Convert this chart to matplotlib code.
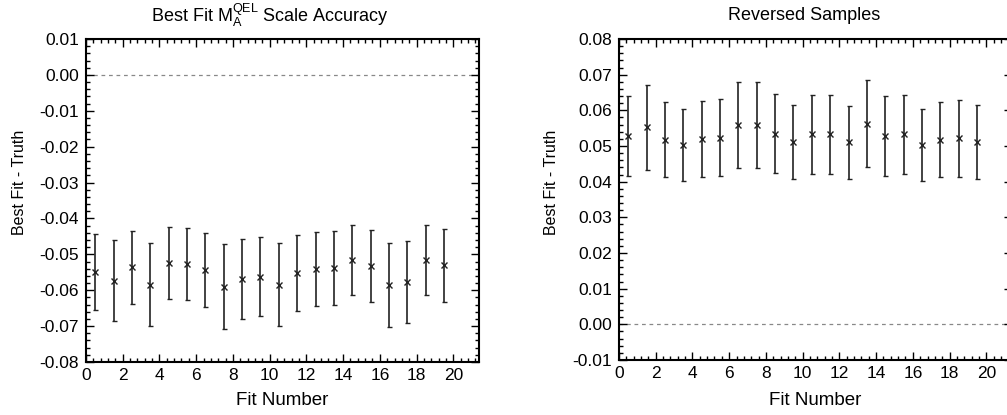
import matplotlib
matplotlib.use("Agg")
import matplotlib.pyplot as plt
from matplotlib.ticker import MultipleLocator
import numpy as np

plt.rcParams['font.family'] = ['Liberation Sans', 'DejaVu Sans']
plt.rcParams['mathtext.fontset'] = 'custom'
plt.rcParams['mathtext.rm'] = 'Liberation Sans'
plt.rcParams['mathtext.it'] = 'Liberation Sans'

# ---- data ----
fit_number = [0.5 + i for i in range(20)]

left_values = [-0.0548, -0.0574, -0.0536, -0.0585, -0.0524, -0.0528, -0.0544, -0.0590,
               -0.0568, -0.0563, -0.0585, -0.0551, -0.0541, -0.0538, -0.0515, -0.0532,
               -0.0586, -0.0578, -0.0515, -0.0531]
left_errors = [0.0106, 0.0113, 0.0102, 0.0116, 0.0100, 0.0100, 0.0104, 0.0118,
               0.0111, 0.0110, 0.0116, 0.0106, 0.0104, 0.0103, 0.0098, 0.0101,
               0.0117, 0.0114, 0.0098, 0.0101]

right_values = [0.0529, 0.0552, 0.0518, 0.0504, 0.0519, 0.0523, 0.0558, 0.0558,
                0.0535, 0.0512, 0.0533, 0.0533, 0.0510, 0.0563, 0.0529, 0.0533,
                0.0504, 0.0518, 0.0522, 0.0511]
right_errors = [0.0112, 0.0119, 0.0106, 0.0101, 0.0107, 0.0108, 0.0121, 0.0121,
                0.0112, 0.0104, 0.0111, 0.0111, 0.0103, 0.0123, 0.0112, 0.0111,
                0.0101, 0.0106, 0.0108, 0.0104]

left_title = r'Best Fit M$_{\mathrm{A}}^{\mathrm{QEL}}$ Scale Accuracy'
right_title = 'Reversed Samples'
xlabel = 'Fit Number'
ylabel = 'Best Fit - Truth'

W, H = 1007, 415
fig = plt.figure(figsize=(W / 100, H / 100), dpi=100)


def px_axes(left, top, right, bottom):
    return fig.add_axes([left / W, (H - bottom) / H, (right - left) / W, (bottom - top) / H])


def style(ax, ylim):
    ax.set_xlim(0, 21.4)
    ax.set_ylim(*ylim)
    ax.xaxis.set_major_locator(MultipleLocator(2))
    ax.xaxis.set_minor_locator(MultipleLocator(0.4))
    ax.yaxis.set_major_locator(MultipleLocator(0.01))
    ax.yaxis.set_minor_locator(MultipleLocator(0.002))
    ax.yaxis.set_major_formatter(matplotlib.ticker.FuncFormatter(
        lambda v, p: f"{v:.2f}".replace("-0.00", "0.00")))
    ax.tick_params(which='both', direction='in', top=True, right=True, width=1.0, colors='black')
    ax.tick_params(which='major', length=5.5, labelsize=12.5)
    ax.tick_params(axis='x', which='major', pad=4.5)
    ax.tick_params(axis='y', which='major', pad=5)
    ax.tick_params(which='minor', length=2.8)
    for s in ax.spines.values():
        s.set_linewidth(1.5)
    ax.axhline(0.0, color='#888888', lw=0.9, ls=(0, (3, 3)), zorder=1)


axL = px_axes(86, 39, 479, 362)
style(axL, (-0.08, 0.01))
axL.errorbar(fit_number, left_values, yerr=left_errors, fmt='x', color='#222222',
             ms=4.5, mew=1.0, elinewidth=1.2, capsize=1.8, capthick=1.2)

axR = px_axes(619, 39, 1012, 360)
style(axR, (-0.01, 0.08))
axR.errorbar(fit_number, right_values, yerr=right_errors, fmt='x', color='#222222',
             ms=4.5, mew=1.0, elinewidth=1.2, capsize=1.8, capthick=1.2)

fig.text(270 / W, 1 - 15 / H, left_title, ha='center', va='center', fontsize=13)
fig.text(804 / W, 1 - 15 / H, right_title, ha='center', va='center', fontsize=13)
fig.text(282 / W, 1 - 400 / H, xlabel, ha='center', va='center', fontsize=13.5)
fig.text(815 / W, 1 - 400 / H, xlabel, ha='center', va='center', fontsize=13.5)
fig.text(20 / W, 1 - 182 / H, ylabel, ha='center', va='center', fontsize=11.5, rotation=90)
fig.text(552 / W, 1 - 182 / H, ylabel, ha='center', va='center', fontsize=11.5, rotation=90)

fig.savefig('out.png', dpi=100)
